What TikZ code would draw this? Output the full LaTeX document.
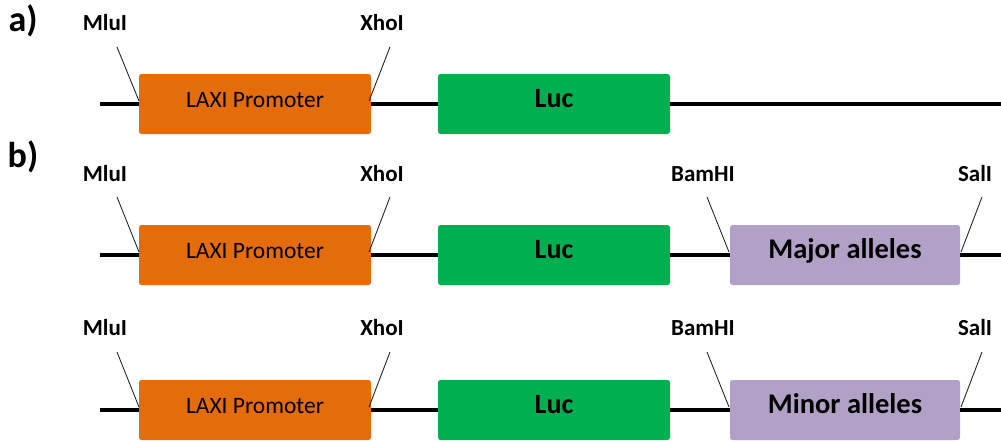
\documentclass[tikz,border=0pt]{standalone}
\usepackage{fontspec}
\setmainfont{Carlito}
\definecolor{promo}{HTML}{E46C0A}
\definecolor{lucgreen}{HTML}{00B050}
\definecolor{allele}{HTML}{B2A1C7}
\begin{document}
\begin{tikzpicture}[x=1pt,y=-1pt,
  box/.style={rounded corners=2.5pt, minimum height=60pt, inner sep=0pt,
    text height=0.644em, text depth=0pt},
  promobox/.style={box, fill=promo, minimum width=232pt, font=\fontsize{23.5}{24}\selectfont},
  lucbox/.style={box, fill=lucgreen, minimum width=232pt, font=\bfseries\fontsize{28}{29}\selectfont},
  allelebox/.style={box, fill=allele, minimum width=230pt, font=\bfseries\fontsize{28.5}{29}\selectfont},
  site/.style={font=\bfseries\fontsize{23}{24}\selectfont, inner sep=0pt, text height=0.644em, text depth=0pt},
  panel/.style={font=\bfseries\fontsize{36}{37}\selectfont, inner sep=0pt, text height=0.644em, text depth=0pt},
  backbone/.style={line width=4pt, black},
  cut/.style={line width=0.9pt, black!85}
]
\useasboundingbox (0,0) rectangle (1001,442);

% ---------- a) ----------
\node[panel] (pa) at (23,28) {a)};
\node[promobox] (p1) at (255,104) {LAXI Promoter};
\node[lucbox] (l1) at (554,104) {Luc};
\coordinate (s1) at (100,104);
\coordinate (e1) at (1001,104);
\draw[backbone] (s1) -- (p1.west);
\draw[backbone] (p1.east) -- (l1.west);
\draw[backbone] (l1.east) -- (e1);
\node[site] (mlu1) at (105,27) {MluI};
\node[site] (xho1) at (382,27) {XhoI};
\coordinate (mlu1t) at (117,47);
\coordinate (xho1t) at (390,47);
\coordinate (mlu1b) at (139,101);
\coordinate (xho1b) at (369,101);
\draw[cut] (mlu1t) -- (mlu1b);
\draw[cut] (xho1t) -- (xho1b);

% ---------- b) ----------
\node[panel] (pb) at (23,164) {b)};
\node[promobox] (p2) at (255,255) {LAXI Promoter};
\node[lucbox] (l2) at (554,255) {Luc};
\node[allelebox] (m2) at (845,255) {Major alleles};
\coordinate (s2) at (100,255);
\coordinate (e2) at (1001,255);
\draw[backbone] (s2) -- (p2.west);
\draw[backbone] (p2.east) -- (l2.west);
\draw[backbone] (l2.east) -- (m2.west);
\draw[backbone] (m2.east) -- (e2);
\node[site] (mlu2) at (105,178) {MluI};
\node[site] (xho2) at (382,178) {XhoI};
\node[site] (bam2) at (703,178) {BamHI};
\node[site] (sal2) at (975,178) {SalI};
\coordinate (mlu2t) at (117,197);
\coordinate (xho2t) at (390,197);
\coordinate (bam2t) at (707,197);
\coordinate (sal2t) at (982,197);
\coordinate (mlu2b) at (139,252);
\coordinate (xho2b) at (369,252);
\coordinate (bam2b) at (729,252);
\coordinate (sal2b) at (961,252);
\draw[cut] (mlu2t) -- (mlu2b);
\draw[cut] (xho2t) -- (xho2b);
\draw[cut] (bam2t) -- (bam2b);
\draw[cut] (sal2t) -- (sal2b);

% ---------- b) second construct ----------
\node[promobox] (p3) at (255,410) {LAXI Promoter};
\node[lucbox] (l3) at (554,410) {Luc};
\node[allelebox] (m3) at (845,410) {Minor alleles};
\coordinate (s3) at (100,410);
\coordinate (e3) at (1001,410);
\draw[backbone] (s3) -- (p3.west);
\draw[backbone] (p3.east) -- (l3.west);
\draw[backbone] (l3.east) -- (m3.west);
\draw[backbone] (m3.east) -- (e3);
\node[site] (mlu3) at (105,332) {MluI};
\node[site] (xho3) at (382,332) {XhoI};
\node[site] (bam3) at (703,332) {BamHI};
\node[site] (sal3) at (975,332) {SalI};
\coordinate (mlu3t) at (117,352);
\coordinate (xho3t) at (390,352);
\coordinate (bam3t) at (707,352);
\coordinate (sal3t) at (982,352);
\coordinate (mlu3b) at (139,407);
\coordinate (xho3b) at (369,407);
\coordinate (bam3b) at (729,407);
\coordinate (sal3b) at (961,407);
\draw[cut] (mlu3t) -- (mlu3b);
\draw[cut] (xho3t) -- (xho3b);
\draw[cut] (bam3t) -- (bam3b);
\draw[cut] (sal3t) -- (sal3b);
\end{tikzpicture}
\end{document}
